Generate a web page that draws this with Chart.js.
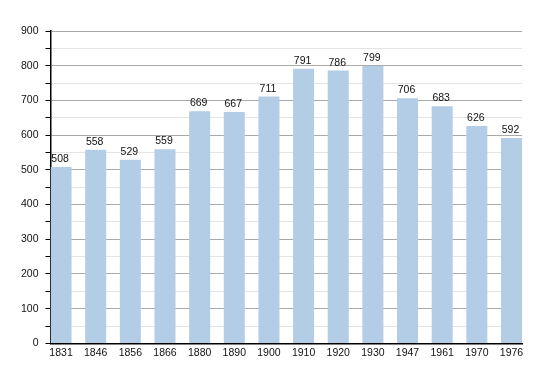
<!DOCTYPE html>
<html><head><meta charset="utf-8">
<script src="https://cdn.jsdelivr.net/npm/chart.js@4/dist/chart.umd.min.js"></script>
<style>html,body{margin:0;padding:0;background:#fff}#wrap{width:550px;height:373px}</style>
</head><body><div id="wrap"><canvas id="c" width="550" height="373"></canvas></div>
<script>
const years = ["1831","1846","1856","1866","1880","1890","1900","1910","1920","1930","1947","1961","1970","1976"];
const population = [508,558,529,559,669,667,711,791,786,799,706,683,626,592];
const yMax = 900;
const yStep = 50;

const labelPlugin = {
  id: 'barLabels',
  afterDatasetsDraw(chart) {
    const ctx = chart.ctx;
    const meta = chart.getDatasetMeta(0);
    ctx.save();
    ctx.font = '10.5px "Liberation Sans", Arial, sans-serif';
    ctx.fillStyle = '#111';
    ctx.textAlign = 'center';
    ctx.textBaseline = 'alphabetic';
    meta.data.forEach((bar, i) => {
      ctx.fillText(String(population[i]), bar.x - 1, bar.y - 5);
    });
    ctx.restore();
  }
};

const EDGE = 0.304;

new Chart(document.getElementById('c'), {
  type: 'bar',
  data: { labels: years, datasets: [{ data: population, backgroundColor: '#b3cde6', categoryPercentage: 0.607, barPercentage: 1.0 }] },
  options: {
    responsive: false, animation: false, devicePixelRatio: 1,
    layout: { padding: { top: 31, right: 28, left: 14, bottom: 11 } },
    plugins: { legend: { display: false }, tooltip: { enabled: false } },
    scales: {
      x: {
        offset: false,
        afterBuildTicks: s => { s._startValue = -EDGE; s._valueRange = (years.length - 1) + 2 * EDGE; },
        grid: { display: false, drawTicks: false },
        border: { color: '#000', width: 1.5 },
        ticks: { color: '#111', font: { size: 10.5, family: '"Liberation Sans", Arial, sans-serif' }, padding: 3, maxRotation: 0, autoSkip: false }
      },
      y: {
        min: 0, max: yMax,
        border: { color: '#000', width: 1.5 },
        grid: {
          color: c => (c.tick && c.tick.value % 100 === 0) ? '#aaaaaa' : '#e4e4e4',
          tickColor: '#000', tickLength: 5, lineWidth: 1
        },
        ticks: {
          stepSize: yStep, color: '#111', padding: 7,
          font: { size: 10.5, family: '"Liberation Sans", Arial, sans-serif' },
          callback: v => (v % 100 === 0 ? String(v) : '')
        }
      }
    }
  },
  plugins: [labelPlugin]
});
</script></body></html>
